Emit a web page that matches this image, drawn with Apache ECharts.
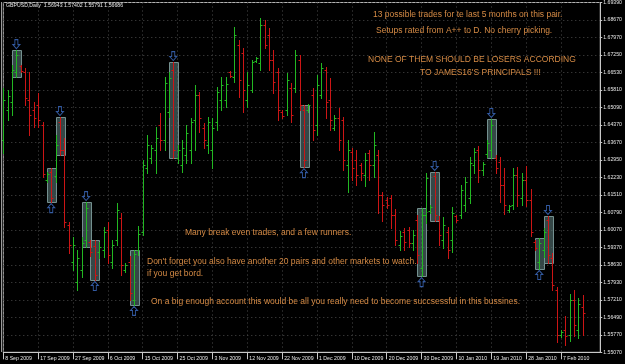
<!DOCTYPE html>
<html>
<head>
<meta charset="utf-8">
<script src="https://cdn.jsdelivr.net/npm/echarts@6/dist/echarts.min.js"></script>
<style>
html,body{margin:0;padding:0;background:#000;}
#chart{width:625px;height:364px;}
</style>
</head>
<body>
<div id="chart"></div>
<script>
// ---- data ----
const dateLabels = ['8 Sep 2009','17 Sep 2009','27 Sep 2009','6 Oct 2009','15 Oct 2009','25 Oct 2009','3 Nov 2009','12 Nov 2009','22 Nov 2009','1 Dec 2009','10 Dec 2009','20 Dec 2009','30 Dec 2009','10 Jan 2010','19 Jan 2010','28 Jan 2010','7 Feb 2010'];
const yLabels = ['1.55070','1.55770','1.56490','1.57210','1.57930','1.58630','1.59370','1.60070','1.60790','1.61510','1.62230','1.62950','1.63670','1.64370','1.65090','1.65810','1.66530','1.67250','1.67970','1.68670','1.69390'];

const opens = [1.6376,1.6499,1.6532,1.6654,1.6678,1.6654,1.6540,1.6499,1.6520,1.6438,
1.6212,1.6245,1.6228,1.6450,1.6335,1.6028,1.5877,1.5795,1.5844,1.5966,
1.5958,1.5941,1.5918,1.5926,1.6007,1.5877,1.5966,1.6056,1.5844,1.5877,
1.5721,1.5926,1.5999,1.6261,1.6302,1.6335,1.6438,1.6376,1.6491,1.6662,
1.6302,1.6274,1.6315,1.6335,1.6458,1.6560,1.6425,1.6356,1.6335,1.6450,
1.6540,1.6540,1.6654,1.6633,1.6765,1.6732,1.6540,1.6580,1.6699,1.6691,
1.6846,1.6806,1.6703,1.6654,1.6491,1.6499,1.6588,1.6588,1.6703,1.6499,
1.6499,1.6560,1.6438,1.6560,1.6662,1.6540,1.6425,1.6466,1.6458,1.6274,
1.6327,1.6294,1.6274,1.6233,1.6323,1.6274,1.6315,1.6151,1.6130,1.6138,
1.6069,1.5946,1.5999,1.6007,1.5954,1.6048,1.5852,1.6069,1.6085,1.6228,
1.6048,1.5966,1.5999,1.5966,1.6065,1.6069,1.6110,1.6138,1.6274,1.6335,
1.6253,1.6319,1.6335,1.6302,1.6286,1.6191,1.6089,1.6110,1.6233,1.6138,
1.6212,1.6130,1.5958,1.5877,1.5926,1.6048,1.5893,1.5762,1.5578,1.5598,
1.5578,1.5721,1.5598,1.56943];
const highs = [1.6588,1.6580,1.6683,1.6744,1.6683,1.6670,1.6654,1.6532,1.6568,1.6450,
1.6245,1.6261,1.6397,1.6470,1.6384,1.6040,1.5978,1.5926,1.5978,1.6122,
1.5966,1.5966,1.5958,1.6019,1.6040,1.5966,1.6118,1.6077,1.5873,1.5901,
1.5926,1.6023,1.6294,1.6397,1.6356,1.6429,1.6487,1.6633,1.6654,1.6695,
1.6356,1.6376,1.6438,1.6466,1.6601,1.6572,1.6446,1.6470,1.6466,1.6592,
1.6633,1.6633,1.6658,1.6838,1.6785,1.6752,1.6654,1.6703,1.6715,1.6875,
1.6867,1.6834,1.6744,1.6670,1.6499,1.6650,1.6609,1.6744,1.6724,1.6520,
1.6524,1.6588,1.6642,1.6691,1.6674,1.6629,1.6479,1.6507,1.6470,1.6376,
1.6343,1.6335,1.6282,1.6323,1.6335,1.6409,1.6335,1.6163,1.6142,1.6151,
1.6093,1.6003,1.6015,1.6019,1.6007,1.6069,1.6097,1.6241,1.6110,1.6245,
1.6065,1.6060,1.6019,1.6101,1.6069,1.6191,1.6224,1.6306,1.6343,1.6351,
1.6286,1.6376,1.6462,1.6315,1.6306,1.6261,1.6110,1.6261,1.6265,1.6241,
1.6269,1.6175,1.5966,1.5974,1.6015,1.6065,1.5914,1.5774,1.5598,1.5655,
1.5746,1.5762,1.5729,1.57402];
const lows = [1.6323,1.6458,1.6479,1.6633,1.6654,1.6520,1.6397,1.6429,1.6429,1.6224,
1.6204,1.6122,1.6204,1.6315,1.6019,1.5914,1.5844,1.5762,1.5815,1.5937,
1.5901,1.5803,1.5893,1.5897,1.5873,1.5852,1.5946,1.5824,1.5836,1.5721,
1.5701,1.5906,1.5987,1.6241,1.6282,1.6241,1.6335,1.6335,1.6470,1.6302,
1.6282,1.6245,1.6282,1.6282,1.6335,1.6409,1.6343,1.6323,1.6261,1.6417,
1.6499,1.6511,1.6633,1.6613,1.6551,1.6491,1.6511,1.6572,1.6695,1.6662,
1.6752,1.6662,1.6568,1.6458,1.6466,1.6479,1.6450,1.6572,1.6499,1.6265,
1.6491,1.6376,1.6397,1.6547,1.6466,1.6417,1.6417,1.6335,1.6253,1.6163,
1.6212,1.6191,1.6212,1.6187,1.6212,1.6224,1.6077,1.6044,1.6097,1.6015,
1.5946,1.5926,1.5926,1.5937,1.5926,1.5873,1.5819,1.6036,1.6077,1.6044,
1.5946,1.5933,1.5893,1.5918,1.6040,1.6056,1.6085,1.6118,1.6241,1.6204,
1.6233,1.6306,1.6302,1.6241,1.6122,1.6073,1.6081,1.6093,1.6106,1.6110,
1.6106,1.5982,1.5926,1.5848,1.5897,1.5873,1.5762,1.5549,1.5569,1.5537,
1.5553,1.5573,1.5565,1.55791];
const closes = [1.6540,1.6555,1.6662,1.6724,1.6658,1.6547,1.6479,1.6466,1.6458,1.6237,
1.6237,1.6138,1.6356,1.6335,1.6040,1.5946,1.5946,1.5893,1.5954,1.6097,
1.5918,1.5824,1.5937,1.5999,1.5906,1.5946,1.6089,1.5865,1.5865,1.5750,
1.5910,1.5991,1.6274,1.6356,1.6343,1.6384,1.6376,1.6609,1.6629,1.6335,
1.6335,1.6343,1.6405,1.6450,1.6560,1.6466,1.6376,1.6450,1.6425,1.6572,
1.6601,1.6605,1.6637,1.6806,1.6621,1.6580,1.6601,1.6695,1.6711,1.6846,
1.6765,1.6703,1.6613,1.6499,1.6474,1.6621,1.6479,1.6724,1.6520,1.6294,
1.6520,1.6417,1.6601,1.6670,1.6532,1.6458,1.6466,1.6376,1.6294,1.6335,
1.6261,1.6233,1.6241,1.6294,1.6274,1.6356,1.6151,1.6110,1.6110,1.6069,
1.5966,1.5982,1.5958,1.5954,1.5987,1.5906,1.6069,1.6220,1.6101,1.6069,
1.5987,1.6028,1.5926,1.6077,1.6048,1.6171,1.6204,1.6282,1.6327,1.6253,
1.6278,1.6364,1.6438,1.6261,1.6191,1.6110,1.6106,1.6233,1.6151,1.6212,
1.6130,1.5999,1.5933,1.5954,1.5999,1.5906,1.5782,1.5578,1.5590,1.5573,
1.5721,1.5618,1.5705,1.56686];

// highlighted trade setups (rectangles) and arrows
const boxCenters = [3,11,13,19,21,30,39,69,96,99,112,123,125];
const boxTops    = [1.6744,1.6261,1.6470,1.6122,1.5966,1.5926,1.6695,1.6520,1.6097,1.6245,1.6462,1.5974,1.6065];
const boxBottoms = [1.6633,1.6122,1.6315,1.5937,1.5803,1.5701,1.6302,1.6265,1.5819,1.6044,1.6302,1.5848,1.5873];
const arrowDirs  = ['down','up','down','down','up','up','down','up','up','down','down','up','down'];

const notes = [
  '13 possible trades for te last 5 months on this pair.',
  'Setups rated from A++ to D. No cherry picking.',
  'NONE OF THEM SHOULD BE LOSERS ACCORDING',
  "TO JAMES16'S PRINCIPALS !!!",
  'Many break even trades, and a few runners.',
  "Don't forget you also have another 20 pairs and other markets to watch.",
  'if you get bord.',
  'On a big enough account this would be all you really need to become succsessful in this bussines.'
];

// ---- build ----
const NCAT = 138;
const cats = [];
for (let i = 0; i < NCAT; i++) cats.push(String(i));
const YMIN = 1.5507, YSTEP = 0.00716;
const YMAX = +(YMIN + 20 * YSTEP).toFixed(5);
const UP = '#22b822', DOWN = '#cc1515';
const last = closes.length - 1;

const ohlc = opens.map((o, i) => [i, o, highs[i], lows[i], closes[i]]);
const boxes = boxCenters.map((c, k) => [c - 1, c + 1, boxTops[k], boxBottoms[k]]);
const downArrows = [], upArrows = [];
boxCenters.forEach((c, k) => {
  if (arrowDirs[k] === 'down') downArrows.push([c, boxTops[k]]);
  else upArrows.push([c, boxBottoms[k]]);
});

const labelEvery = (idx) => idx % 8 === 0 && idx / 8 < dateLabels.length;
const FONT = '"Liberation Sans", Arial, sans-serif';
const ORANGE = '#d68b45';
const noteX = [373, 376, 368, 420, 185, 147, 147, 151];
const noteY = [15, 31, 60, 73, 233, 262, 273.5, 302];

const graphics = notes.map((t, k) => ({
  type: 'text', x: noteX[k], y: noteY[k], z: 10,
  style: { text: t, fill: ORANGE, fontSize: 8.5, fontFamily: FONT, verticalAlign: 'middle' }
}));
graphics.push({
  type: 'text', x: 6, y: 6, z: 10,
  style: { text: 'GBPUSD,Daily  ' + [opens[last], highs[last], lows[last], closes[last]].map(v => v.toFixed(5)).join(' '),
           fill: '#e6e6e6', fontSize: 5.2, fontFamily: FONT, verticalAlign: 'middle' }
});
graphics.push({
  type: 'line', z: 10, shape: { x1: 1.5, y1: 2, x2: 1.5, y2: 352 },
  style: { stroke: '#9a9a9a', lineWidth: 1 }
});

const chart = echarts.init(document.getElementById('chart'), null, { renderer: 'canvas' });
chart.setOption({
  backgroundColor: '#000',
  animation: false,
  grid: { left: 3.3, top: 2.4, width: 598.3, height: 349.9, show: true, borderColor: '#b4b4b4', borderWidth: 1, backgroundColor: '#000' },
  xAxis: {
    type: 'category', data: cats, boundaryGap: false,
    axisLine: { show: true, lineStyle: { color: '#c8c8c8', width: 1 } },
    axisTick: { show: true, interval: labelEvery, length: 7, lineStyle: { color: '#c8c8c8' } },
    axisLabel: { interval: labelEvery, align: 'left', margin: 4, padding: [0, 0, 0, 2],
      fontSize: 5.2, fontFamily: FONT, color: '#e6e6e6',
      formatter: (v, idx) => dateLabels[idx / 8] || '' },
    splitLine: { show: true, interval: labelEvery, lineStyle: { color: '#4a4a4a', type: [1, 3], width: 1 } }
  },
  yAxis: {
    type: 'value', position: 'right', min: YMIN, max: YMAX, interval: YSTEP, scale: true,
    axisLine: { show: true, lineStyle: { color: '#c8c8c8' } },
    axisTick: { show: true, length: 2, lineStyle: { color: '#c8c8c8' } },
    axisLabel: { margin: 3, fontSize: 5.2, fontFamily: FONT, color: '#e6e6e6',
      formatter: (v) => yLabels[Math.round((v - YMIN) / YSTEP)] || '' },
    splitLine: { show: true, lineStyle: { color: '#4a4a4a', type: [1, 3], width: 1 } }
  },
  graphic: graphics,
  series: [
    {
      type: 'custom', name: 'setups', z: 1, data: boxes,
      encode: { x: [0, 1], y: [2, 3] },
      renderItem: (params, api) => {
        const p1 = api.coord([api.value(0), api.value(2)]);
        const p2 = api.coord([api.value(1), api.value(3)]);
        return { type: 'rect',
          shape: { x: Math.round(p1[0]) + 0.5, y: Math.round(p1[1]) + 0.5,
                   width: Math.round(p2[0] - p1[0]), height: Math.round(p2[1] - p1[1]) },
          style: { fill: 'rgba(88,118,118,0.6)', stroke: '#74908f', lineWidth: 1 } };
      }
    },
    {
      type: 'custom', name: 'GBPUSD', z: 4, data: ohlc,
      encode: { x: 0, y: [1, 2, 3, 4] },
      renderItem: (params, api) => {
        const i = api.value(0);
        const o = api.value(1), h = api.value(2), l = api.value(3), c = api.value(4);
        const ph = api.coord([i, h]), pl = api.coord([i, l]);
        const po = api.coord([i, o]), pc = api.coord([i, c]);
        const x = Math.round(ph[0]) + 0.5;
        const col = c >= o ? UP : DOWN;
        const yo = Math.round(po[1]) + 0.5, yc = Math.round(pc[1]) + 0.5;
        return { type: 'group', children: [
          { type: 'line', shape: { x1: x, y1: Math.round(ph[1]), x2: x, y2: Math.round(pl[1]) + 1 }, style: { stroke: col, lineWidth: 1 } },
          { type: 'line', shape: { x1: x - 2, y1: yo, x2: x, y2: yo }, style: { stroke: col, lineWidth: 1 } },
          { type: 'line', shape: { x1: x, y1: yc, x2: x + 2, y2: yc }, style: { stroke: col, lineWidth: 1 } }
        ] };
      }
    },
    {
      type: 'scatter', name: 'down', z: 5, data: downArrows,
      symbol: 'path://M4 0 L10 0 L10 11 L14 11 L7 20 L0 11 L4 11 Z',
      symbolSize: [7, 9], symbolOffset: [0, -6],
      itemStyle: { color: '#000', borderColor: '#3f6fc8', borderWidth: 1 }, silent: true
    },
    {
      type: 'scatter', name: 'up', z: 5, data: upArrows,
      symbol: 'path://M7 0 L14 9 L10 9 L10 20 L4 20 L4 9 L0 9 Z',
      symbolSize: [7, 9], symbolOffset: [0, 6],
      itemStyle: { color: '#000', borderColor: '#3f6fc8', borderWidth: 1 }, silent: true,
      markLine: {
        silent: true, symbol: 'none', animation: false,
        data: [{ yAxis: closes[last] }],
        lineStyle: { opacity: 0 },
        label: { show: true, position: 'end', distance: 1, formatter: closes[last].toFixed(5),
          backgroundColor: '#ffffff', color: '#000', fontSize: 5.2, fontFamily: FONT, padding: [1, 2, 1, 2] }
      }
    }
  ]
});
</script>
</body>
</html>
